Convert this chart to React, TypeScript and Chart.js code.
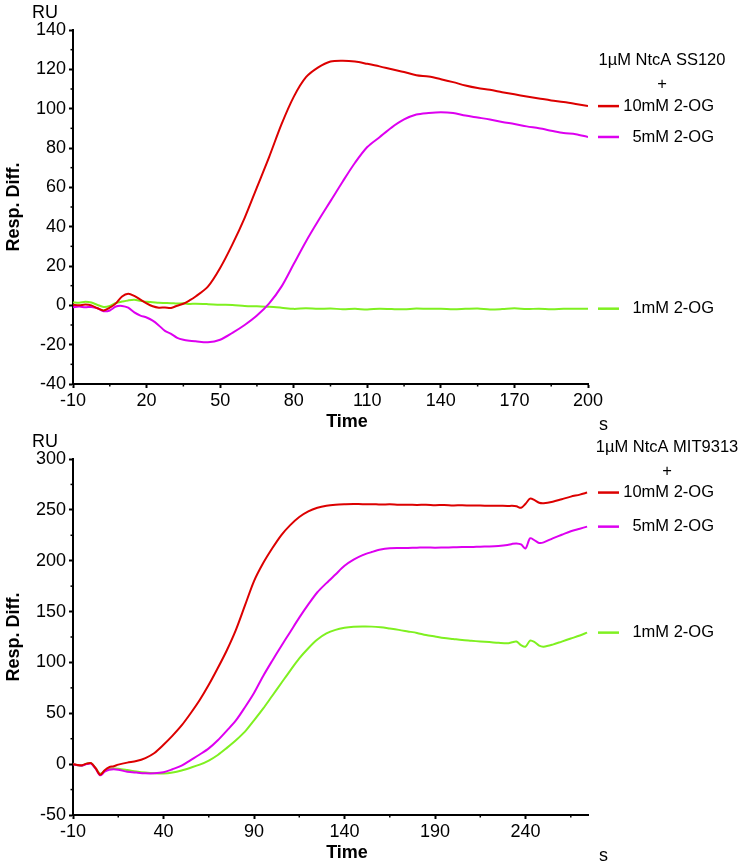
import { useEffect, useRef } from "react"
import { Chart, registerables, type ChartOptions, type Plugin } from "chart.js"

Chart.register(...registerables)

// ---- top panel: 1µM NtcA SS120 ----
const timeTop = [
  -10, -7.5, -5, -2.5, 0, 2.5, 5, 7.5, 10, 12.5, 15, 17.5, 20, 22.5, 25, 27.5, 30, 32.5, 35, 37.5, 40,
  45, 50, 55, 60, 65, 70, 75, 80, 85, 90, 95, 100, 105, 110, 115, 120, 125, 130, 135, 140, 145, 150,
  155, 160, 165, 170, 175, 180, 185, 190, 195, 200,
]
const ss120_10mM = [
  0.3, 0, 0.4, 0, -1.5, -2.6, -1.2, 1.0, 4.5, 5.9, 4.8, 2.9, 1.0, -0.5, -1.2, -1.1, -1.3, -0.2, 0.8, 2.5, 4.5,
  9.5, 19, 31, 44.5, 60, 75.5, 92, 106, 116, 121, 124, 124.4, 124, 122.8, 121.5, 120, 118.6, 117, 116.3, 115,
  113.5, 111.8, 110.5, 109.6, 108.4, 107.3, 106.2, 105.2, 104.2, 103.4, 102.4, 101.3,
]
const ss120_5mM = [
  -1, -0.6, -1, -0.8, -1.5, -3, -2.6, -0.6, -0.3, -1.2, -3.6, -5.2, -6.2, -7.8, -10.2, -13, -14.5, -16.5, -17.5,
  -18, -18.3, -18.8, -17.5, -14, -10, -5.2, 1, 9.5, 21, 32.5, 43, 53, 63, 72.5, 80.5, 85.5, 90.5, 94.5, 97,
  97.8, 98.2, 97.8, 96.5, 95.5, 94.5, 93.2, 92.2, 91, 90, 88.8, 87.6, 87, 85.6,
]
const ss120_1mM = [
  1.5, 1.3, 1.8, 1.4, 0.2, -0.8, -0.3, 1.2, 1.9, 2.5, 2.8, 2.3, 1.8, 1.6, 1.3, 1.2, 1.1, 0.9, 1.0, 0.7, 0.8,
  0.6, 0.3, 0.2, -0.3, -0.5, -0.7, -1.2, -1.8, -1.5, -1.8, -1.6, -2.0, -1.8, -2.1, -1.7, -1.9, -2.0, -1.6, -1.8,
  -1.7, -2.0, -1.8, -1.6, -2.1, -1.9, -1.5, -1.9, -1.7, -2.0, -1.8, -1.7, -1.7,
]
const xTicksTop = [-10, 20, 50, 80, 110, 140, 170, 200]
const xMinorTop = [5, 35, 65, 95, 125, 155, 185]
const yMinorTop = [-30, -10, 10, 30, 50, 70, 90, 110, 130]

// ---- bottom panel: 1µM NtcA MIT9313 ----
const timeBottom = [
  -10, -7.5, -5, -2.5, 0, 2.5, 5, 7.5, 10, 12.5, 15, 20, 25, 30, 35, 40, 45, 50, 55, 60, 65, 70, 75, 80, 85,
  90, 95, 100, 105, 110, 115, 120, 125, 130, 135, 140, 145, 150, 155, 160, 165, 170, 175, 180, 185, 190, 195,
  200, 205, 210, 215, 220, 225, 230, 232.5, 235, 237.5, 240, 242.5, 245, 247.5, 250, 255, 260, 265, 270, 274,
]
const mit_10mM = [
  0, -0.8, -1, 0.5, 1, -4, -10.5, -6, -3, -2, -0.5, 1.5, 3, 6, 11, 19, 28, 38, 50, 63, 78, 94.5, 112, 132,
  156, 180, 197.5, 212, 225, 235, 243, 248.5, 252, 254, 255, 255.5, 255.8, 255.5, 255.6, 255.2, 255.4, 255,
  255.1, 254.8, 255, 254.6, 254.8, 254.4, 254.5, 254.2, 254.3, 254, 254.1, 253.8, 254, 253.5, 252, 256, 261,
  259.5, 257, 256.5, 258, 260.5, 263, 265, 267,
]
const mit_5mM = [
  0, -1, -1.5, 0, 0.5, -4.5, -11, -7.5, -5.5, -5, -5.5, -7.4, -8.3, -9, -9, -8, -5, -1.5, 4, 9.5, 15.5, 23.5,
  33, 43, 56, 70, 86.5, 101.5, 116, 130, 144, 157, 169, 178, 186.5, 195, 201, 205.5, 208.5, 211, 212.2, 212.5,
  212.6, 212.8, 213, 212.8, 213, 213.2, 213.5, 213.4, 213.8, 214, 214.5, 215.5, 216.5, 217, 216, 212, 222, 220,
  217.5, 218, 222, 225.5, 229, 231.5, 233.5,
]
const mit_1mM = [
  0.5, -1, -1.5, 0.5, 1, -4, -9.5, -6.5, -4.5, -4.2, -4.5, -5.8, -7.2, -8.3, -9, -9.2, -8.2, -6.2, -3.5, -0.5,
  3.5, 9, 16, 23.5, 32, 43, 54.5, 67, 79.5, 92, 104, 114, 122.5, 128.5, 132, 134, 135, 135.3, 135.2, 134.5,
  133.3, 132, 130.5, 129, 127, 125.5, 124, 123, 122, 121.3, 120.6, 120, 119.3, 118.8, 119.8, 120.5, 117, 115.5,
  121.5, 120, 116.5, 115.5, 117.5, 120.5, 123.5, 126.5, 129.3,
]
const xTicksBottom = [-10, 40, 90, 140, 190, 240]
const xMinorBottom = [15, 65, 115, 165, 215, 265]
const yMinorBottom = [-25, 25, 75, 125, 175, 225, 275]

const seriesLabels = ["10mM 2-OG", "5mM 2-OG", "1mM 2-OG"]
const seriesColors = ["#dc0000", "#dd00f0", "#7ff020"]

interface PanelProps {
  header: string
  headerX: number
  headerY: number
  time: number[]
  values: number[][]
  xMin: number
  xMax: number
  xTicks: number[]
  xMinor: number[]
  yMin: number
  yMax: number
  yStep: number
  yMinor: number[]
  height: number
  padTop: number
  xAxisHeight: number
}

function Panel(p: PanelProps) {
  const canvasRef = useRef<HTMLCanvasElement>(null)

  useEffect(() => {
    if (!canvasRef.current) return

    const overlay: Plugin<"line"> = {
      id: "overlay",
      afterDraw(chart) {
        const ctx = chart.ctx
        const { left, right, top, bottom } = chart.chartArea
        const xs = chart.scales.x
        const ys = chart.scales.y
        ctx.save()

        // minor ticks
        ctx.strokeStyle = "#000"
        ctx.lineWidth = 1.5
        p.xMinor.forEach((v) => {
          const px = xs.getPixelForValue(v)
          ctx.beginPath()
          ctx.moveTo(px, bottom)
          ctx.lineTo(px, bottom + 2.5)
          ctx.stroke()
        })
        p.yMinor.forEach((v) => {
          const py = ys.getPixelForValue(v)
          ctx.beginPath()
          ctx.moveTo(left - 2.5, py)
          ctx.lineTo(left, py)
          ctx.stroke()
        })

        ctx.fillStyle = "#000"
        ctx.textBaseline = "middle"

        // unit labels
        ctx.font = "18px 'Liberation Sans', Arial, sans-serif"
        ctx.textAlign = "left"
        ctx.fillText("RU", 32, top - 17)
        ctx.fillText("s", right + 11, bottom + 41)

        // axis titles
        ctx.font = "bold 18px 'Liberation Sans', Arial, sans-serif"
        ctx.textAlign = "center"
        ctx.fillText("Time", 347, bottom + 38)
        ctx.save()
        ctx.translate(14, (top + bottom) / 2)
        ctx.rotate(-Math.PI / 2)
        ctx.fillText("Resp. Diff.", 0, 0)
        ctx.restore()

        // header
        ctx.font = "16.5px 'Liberation Sans', Arial, sans-serif"
        ctx.fillText(p.header, p.headerX, p.headerY)
        ctx.fillText("+", p.headerX, p.headerY + 24)

        // series labels at the end value of each curve
        ctx.textAlign = "right"
        p.values.forEach((vals, i) => {
          const py = ys.getPixelForValue(vals[vals.length - 1])
          ctx.strokeStyle = seriesColors[i]
          ctx.lineWidth = 2.5
          ctx.beginPath()
          ctx.moveTo(right + 10, py)
          ctx.lineTo(right + 31, py)
          ctx.stroke()
          ctx.fillStyle = "#000"
          ctx.fillText(seriesLabels[i], 714, py)
        })

        ctx.restore()
      },
    }

    const options: ChartOptions<"line"> = {
      responsive: true,
      maintainAspectRatio: false,
      animation: false,
      layout: { padding: { left: 0, right: 155, top: p.padTop, bottom: 0 } },
      plugins: { legend: { display: false }, tooltip: { enabled: false } },
      scales: {
        x: {
          type: "linear",
          min: p.xMin,
          max: p.xMax,
          afterBuildTicks: (axis) => {
            axis.ticks = p.xTicks.map((v) => ({ value: v }))
          },
          afterFit: (axis) => {
            axis.height = p.xAxisHeight
          },
          border: { display: true, color: "#000", width: 2 },
          grid: { drawOnChartArea: false, drawTicks: true, tickLength: 4, tickColor: "#000", tickWidth: 2 },
          ticks: {
            color: "#000",
            padding: 2,
            maxRotation: 0,
            font: { family: "'Liberation Sans', Arial, sans-serif", size: 18 },
          },
        },
        y: {
          type: "linear",
          min: p.yMin,
          max: p.yMax,
          afterFit: (axis) => {
            axis.width = 73
          },
          border: { display: true, color: "#000", width: 2 },
          grid: { drawOnChartArea: false, drawTicks: true, tickLength: 4, tickColor: "#000", tickWidth: 2 },
          ticks: {
            stepSize: p.yStep,
            color: "#000",
            padding: 3,
            font: { family: "'Liberation Sans', Arial, sans-serif", size: 18 },
          },
        },
      },
    }

    const chart = new Chart(canvasRef.current, {
      type: "line",
      data: {
        datasets: p.values.map((vals, i) => ({
          label: seriesLabels[i],
          data: vals.map((y, j) => ({ x: p.time[j], y })),
          borderColor: seriesColors[i],
          borderWidth: 2,
          pointRadius: 0,
          tension: 0.3,
          fill: false,
        })),
      },
      options,
      plugins: [overlay],
    })

    return () => {
      chart.destroy()
    }
  }, [p])

  return (
    <div style={{ position: "relative", width: 743, height: p.height }}>
      <canvas ref={canvasRef} />
    </div>
  )
}

const topProps: PanelProps = {
  header: "1µM NtcA SS120",
  headerX: 662,
  headerY: 60,
  time: timeTop,
  values: [ss120_10mM, ss120_5mM, ss120_1mM],
  xMin: -10,
  xMax: 200,
  xTicks: xTicksTop,
  xMinor: xMinorTop,
  yMin: -40,
  yMax: 140,
  yStep: 20,
  yMinor: yMinorTop,
  height: 430,
  padTop: 30,
  xAxisHeight: 46,
}

const bottomProps: PanelProps = {
  header: "1µM NtcA MIT9313",
  headerX: 667,
  headerY: 17,
  time: timeBottom,
  values: [mit_10mM, mit_5mM, mit_1mM],
  xMin: -10,
  xMax: 274.5,
  xTicks: xTicksBottom,
  xMinor: xMinorBottom,
  yMin: -50,
  yMax: 300,
  yStep: 50,
  yMinor: yMinorBottom,
  height: 434,
  padTop: 29,
  xAxisHeight: 49,
}

export default function App() {
  return (
    <div style={{ position: "absolute", left: 0, top: 0, width: 743, height: 864, background: "#fff" }}>
      <Panel {...topProps} />
      <Panel {...bottomProps} />
    </div>
  )
}
